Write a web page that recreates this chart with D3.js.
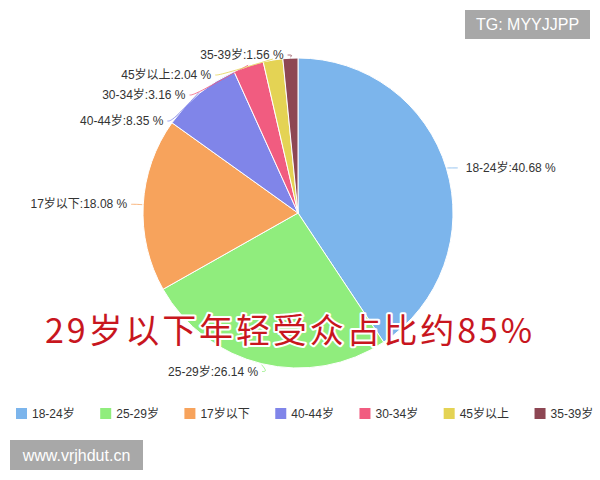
<!DOCTYPE html>
<html><head><meta charset="utf-8">
<script src="https://cdn.jsdelivr.net/npm/d3@7"></script>
<style>body{margin:0;background:#fff}</style></head>
<body>
<svg id="c" width="600" height="480"></svg>
<script>
const categories = ["18-24岁","25-29岁","17岁以下","40-44岁","30-34岁","45岁以上","35-39岁"];
const values = [40.68,26.14,18.08,8.35,3.16,2.04,1.56];
const colors = ["#7cb5ec","#90ed7d","#f7a35c","#8085e9","#f15c80","#e4d354","#8d4653"];
const headline = "29岁以下年轻受众占比约85%";
const watermarks = ["TG: MYYJJPP","www.vrjhdut.cn"];

const svg = d3.select("#c");
svg.append("rect").attr("width",600).attr("height",480).attr("fill","#fff");
const cx = 298, cy = 213, r = 155;
const font = "'Liberation Sans', Arial, 'Noto Sans CJK SC', sans-serif";

const arcs = d3.pie().sort(null).value(d => d)(values);
const arc = d3.arc().innerRadius(0).outerRadius(r);
const g = svg.append("g").attr("transform", `translate(${cx},${cy})`);
g.selectAll("path").data(arcs).join("path")
  .attr("d", arc).attr("fill", (d,i) => colors[i])
  .attr("stroke", "#fff").attr("stroke-width", 1).attr("stroke-linejoin","round");

// label layout
const labs = arcs.map((a,i) => {
  const m = (a.startAngle + a.endAngle) / 2;
  const s = Math.sin(m), c = Math.cos(m);
  return {i, m, right: s > 0,
    ex: cx + (r+1)*s, ey: cy - (r+1)*c,
    nx: cx + (r+16)*s, ny: cy - (r+8)*c};
});
const left = labs.filter(d => !d.right).sort((a,b) => b.m - a.m);
let prev = -Infinity;
const topY = cy - r - 3, R2 = 163;
left.forEach((d,k) => {
  const stackY = prev + (k === 3 ? 26 : 20);
  if (stackY > d.ny && stackY > topY) {
    d.y = stackY;
    const dy = d.y - cy;
    d.x = Math.min(d.nx, cx - Math.sqrt(Math.max(0, R2*R2 - dy*dy)));
  } else if (topY > d.ny) {
    d.y = topY; d.x = d.nx - 6;
  } else {
    d.y = d.ny; d.x = d.nx;
  }
  prev = d.y;
});
labs.filter(d => d.right).forEach(d => { d.y = d.ny + 2; d.x = d.nx; });

const lg = svg.append("g");
labs.forEach(d => {
  const sgn = d.right ? -1 : 1;
  const pts = [[d.x + 4*sgn, d.y], [d.x + 9*sgn, d.y], [d.ex, d.ey]];
  lg.append("path").attr("d", d3.line().curve(d3.curveBasis)(pts)).attr("fill","none")
    .attr("stroke", colors[d.i]).attr("stroke-width",1).attr("opacity",0.8);
  lg.append("text").attr("x", d.right ? d.x + 4 : d.x).attr("y", d.y).attr("dy","0.35em")
    .attr("text-anchor", d.right ? "start" : "end")
    .attr("font-family", font).attr("font-size", 12).attr("fill", "#333")
    .text(`${categories[d.i]}:${values[d.i].toFixed(2)} %`);
});

// headline
svg.append("text").attr("x", 45).attr("y", 343)
  .attr("font-family", "'Noto Sans CJK SC', sans-serif").attr("font-size", 34).attr("font-weight", 400)
  .attr("textLength", 487).attr("lengthAdjust", "spacing")
  .attr("fill", "#c8161e").attr("stroke", "#fff").attr("stroke-width", 4)
  .attr("paint-order", "stroke").attr("stroke-linejoin","round")
  .text(headline);

// legend
let lx = 16;
const leg = svg.append("g");
categories.forEach((c,i) => {
  leg.append("rect").attr("x", lx).attr("y", 408).attr("width", 11).attr("height", 11).attr("fill", colors[i]);
  const t = leg.append("text").attr("x", lx + 16).attr("y", 418)
    .attr("font-family", font).attr("font-size", 12)
    .attr("fill", "#333").text(c);
  lx += 16 + t.node().getComputedTextLength() + 25.5;
});

// watermarks
const w1 = svg.append("g");
w1.append("rect").attr("x",465).attr("y",10).attr("width",125).attr("height",29).attr("fill","#a8a8a8");
w1.append("text").attr("x",527.5).attr("y",30).attr("text-anchor","middle")
  .attr("font-family", font).attr("font-size",16).attr("fill","#fff").text(watermarks[0]);
const w2 = svg.append("g");
w2.append("rect").attr("x",10).attr("y",440).attr("width",133).attr("height",30).attr("fill","#a8a8a8");
w2.append("text").attr("x",76.5).attr("y",461).attr("text-anchor","middle")
  .attr("font-family", font).attr("font-size",16).attr("fill","#fff").text(watermarks[1]);
</script>
</body></html>
